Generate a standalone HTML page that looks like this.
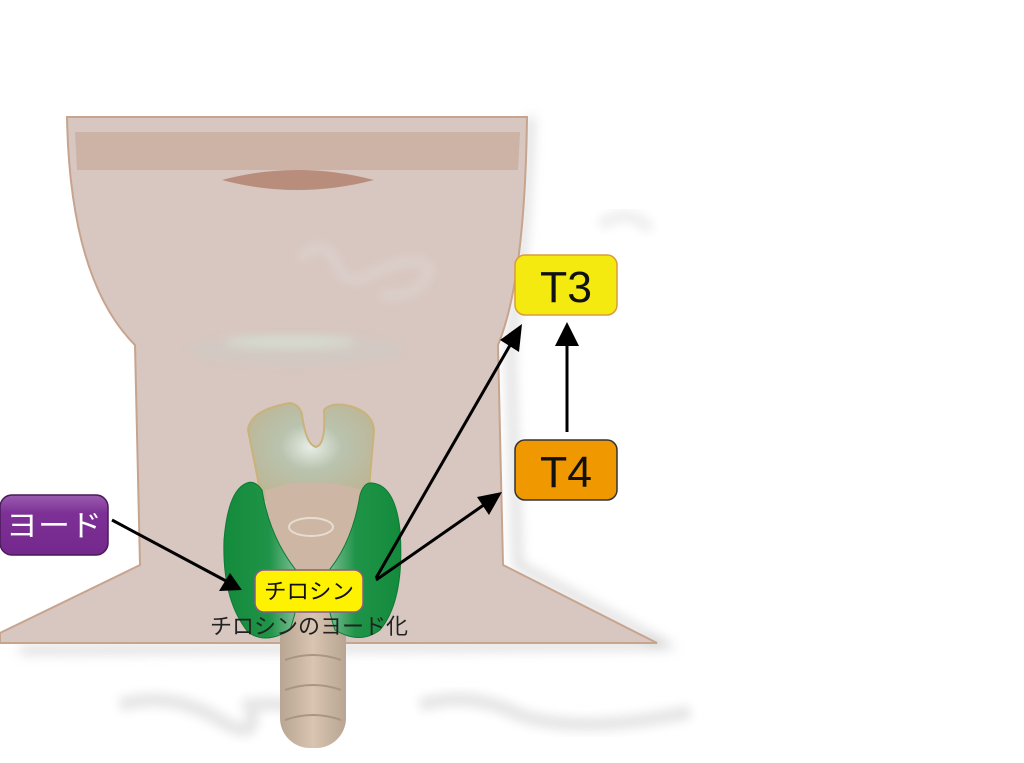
<!DOCTYPE html>
<html><head><meta charset="utf-8"><style>
html,body{margin:0;padding:0;background:#fff;}
svg{display:block;}
text{font-family:"Liberation Sans","Noto Sans CJK JP",sans-serif;}
</style></head><body>
<svg width="1024" height="763" viewBox="0 0 1024 763" xmlns="http://www.w3.org/2000/svg">
<defs>
<radialGradient id="cart" cx="0.5" cy="0.45" r="0.6"><stop offset="0" stop-color="#e8eee8"/><stop offset="0.4" stop-color="#b9c3ae"/><stop offset="1" stop-color="#bdb595"/></radialGradient>
<linearGradient id="lobeL" x1="0" x2="1"><stop offset="0" stop-color="#148a3c"/><stop offset="0.6" stop-color="#1f9448"/><stop offset="1" stop-color="#8cc4a0"/></linearGradient>
<linearGradient id="lobeR" x1="1" x2="0"><stop offset="0" stop-color="#138a3c"/><stop offset="0.6" stop-color="#1f9448"/><stop offset="1" stop-color="#8cc4a0"/></linearGradient>
<linearGradient id="trach" x1="0" x2="1"><stop offset="0" stop-color="#b8a592"/><stop offset="0.5" stop-color="#d8c4b0"/><stop offset="1" stop-color="#b8a592"/></linearGradient>
<linearGradient id="purp" x1="0" y1="0" x2="0" y2="1"><stop offset="0" stop-color="#9a5cb0"/><stop offset="0.3" stop-color="#7d3196"/><stop offset="1" stop-color="#74288c"/></linearGradient>
<filter id="sh" x="-10%" y="-10%" width="130%" height="130%"><feGaussianBlur stdDeviation="6"/></filter>
<filter id="bl" x="-20%" y="-50%" width="140%" height="200%"><feGaussianBlur stdDeviation="5"/></filter>
</defs>
<path d="M120 705 Q170 690 220 720 Q260 745 250 705 Q300 700 330 720" fill="none" stroke="#e6e6e6" stroke-width="14" filter="url(#bl)"/>
<path d="M420 705 Q470 690 520 715 Q580 735 690 712" fill="none" stroke="#e6e6e6" stroke-width="14" filter="url(#bl)"/>
<path d="M600 225 Q630 205 650 230" fill="none" stroke="#eeeeee" stroke-width="12" filter="url(#bl)"/>
<path d="M530 117 Q525 250 510 345 L518 565 L665 645 L20 650" fill="none" stroke="#aaa" stroke-width="6" filter="url(#sh)" opacity="0.6"/>
<!-- neck -->
<path d="M67 117 L527 117 Q525 280 498 345 L503 565 L657 643 L0 643 L0 633 L140 565 L135 345 Q70 280 67 117 Z" fill="#d8c6c0" stroke="#c7a48e" stroke-width="2"/>
<path d="M75 132 L520 132 L518 170 L77 170 Z" fill="#ccb3a6"/>
<path d="M222 180 Q297 160 374 180 Q297 200 222 180Z" fill="#b88d7b"/>
<path d="M300 260 Q320 235 335 260 Q345 290 370 275 Q420 250 430 270 Q420 300 380 295" fill="none" stroke="#dcd0cc" stroke-width="10" filter="url(#bl)"/>
<ellipse cx="295" cy="350" rx="110" ry="16" fill="#d2c9c2" filter="url(#bl)"/>
<ellipse cx="290" cy="342" rx="65" ry="6" fill="#d7ddd2" filter="url(#bl)"/>
<!-- trachea -->
<rect x="280" y="610" width="66" height="138" rx="30" fill="url(#trach)"/>
<path d="M285 660 Q313 650 341 660 M285 690 Q313 680 341 690 M285 720 Q313 710 341 720" fill="none" stroke="#a89582" stroke-width="2"/>
<!-- cartilage -->
<path d="M248 430 Q250 410 290 403 Q300 405 302 415 Q306 445 316 447 Q326 445 324 410 Q330 403 345 405 Q372 410 374 430 L368 500 L262 500 Z" fill="url(#cart)" stroke="#c9b37a" stroke-width="2"/>
<path d="M265 490 Q313 475 362 490 L350 600 L275 600 Z" fill="#cdb7a4"/>
<ellipse cx="311" cy="527" rx="22" ry="9" fill="none" stroke="#e8dcd0" stroke-width="2"/>
<!-- lobes -->
<path d="M247 483 Q228 490 224 540 Q222 600 248 632 Q265 645 290 630 Q300 600 300 575 Q270 540 262 490 Q255 480 247 483Z" fill="url(#lobeL)" stroke="#0e7a34" stroke-width="1"/>
<path d="M372 483 Q395 485 400 530 Q405 600 380 630 Q360 645 335 630 Q325 600 325 575 Q352 545 360 495 Q364 482 372 483Z" fill="url(#lobeR)" stroke="#0e7a34" stroke-width="1"/>
<!-- boxes -->
<rect x="0" y="495" width="108" height="60" rx="12" fill="url(#purp)" stroke="#4a1a5a" stroke-width="1.5"/>
<text x="6" y="536" font-size="30" fill="#fff" textLength="96" lengthAdjust="spacingAndGlyphs">ヨード</text>
<rect x="515" y="255" width="102" height="60" rx="10" fill="#f5ea10" stroke="#d89c3c" stroke-width="1.5"/>
<text x="566" y="302" font-size="44" text-anchor="middle" fill="#111" textLength="52" lengthAdjust="spacingAndGlyphs">T3</text>
<rect x="515" y="440" width="102" height="60" rx="10" fill="#f09800" stroke="#333" stroke-width="1.5"/>
<text x="566" y="487" font-size="44" text-anchor="middle" fill="#111" textLength="52" lengthAdjust="spacingAndGlyphs">T4</text>
<rect x="255" y="570" width="108" height="42" rx="9" fill="#fff200" stroke="#8a5a8a" stroke-width="1.5"/>
<text x="309" y="599" font-size="22" text-anchor="middle" fill="#111" textLength="90" lengthAdjust="spacingAndGlyphs">チロシン</text>
<text x="309" y="634" font-size="22" text-anchor="middle" fill="#222" textLength="198" lengthAdjust="spacingAndGlyphs">チロシンのヨード化</text>
<!-- arrows -->
<g stroke="#000" stroke-width="3" fill="none">
<line x1="112" y1="520" x2="228" y2="582"/>
<line x1="376" y1="578" x2="513" y2="340"/>
<line x1="376" y1="580" x2="488" y2="502"/>
<line x1="567" y1="432" x2="567" y2="340"/>
</g>
<g fill="#000">
<polygon points="242,590 219,591 230,573"/>
<polygon points="522,324 519,352 500,340"/>
<polygon points="502,492 489,515 477,497"/>
<polygon points="567,322 579,346 555,346"/>
</g>
</svg>
</body></html>
